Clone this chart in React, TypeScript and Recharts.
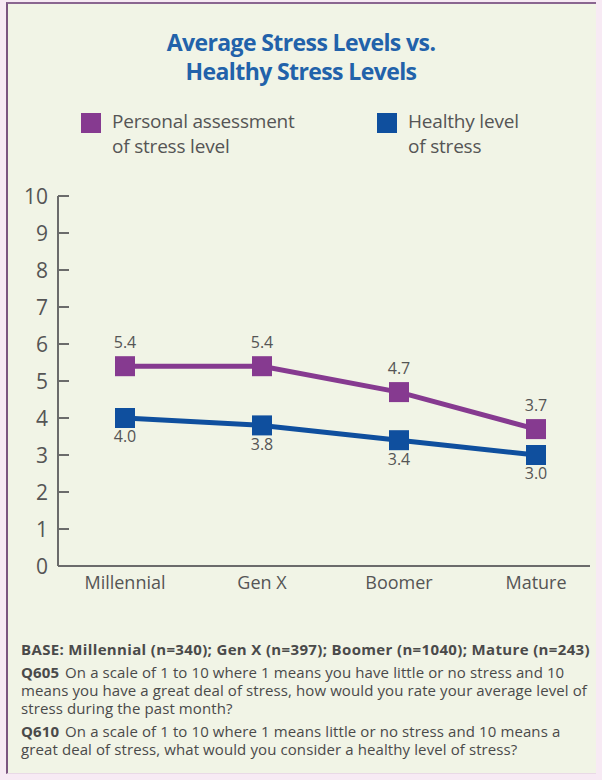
import { LineChart, Line, XAxis, YAxis, LabelList } from 'recharts'

const GENERATIONS = ['Millennial', 'Gen X', 'Boomer', 'Mature']
const PERSONAL = [5.4, 5.4, 4.7, 3.7]
const HEALTHY = [4.0, 3.8, 3.4, 3.0]
const Y_TICKS = [0, 1, 2, 3, 4, 5, 6, 7, 8, 9, 10]

const PURPLE = '#863a90'
const BLUE = '#0f4f9e'
const GREY = '#555'
const FONT = '"Open Sans", "Noto Sans", sans-serif'

const rows = GENERATIONS.map((name, i) => ({ name, personal: PERSONAL[i], healthy: HEALTHY[i] }))

const Square = (color: string) => (props: any) => {
  const { cx, cy, index } = props
  if (cx == null || cy == null) return <g key={index} />
  return <rect key={index} x={cx - 10} y={cy - 10} width={20} height={20} fill={color} />
}

// y ticks sit inside the plot (to the right of the axis line)
const YTick = (props: any) => {
  const { x, y, payload } = props
  return (
    <g>
      <line x1={x + 10} x2={x + 21} y1={y} y2={y} stroke="#6b6b6b" strokeWidth={2} />
      <text x={x} y={y} dy="0.36em" textAnchor="end" fill={GREY} fontSize={21} fontFamily={FONT}>
        {payload.value}
      </text>
    </g>
  )
}

function LegendItem({ color, lines, left }: { color: string; lines: string[]; left: number }) {
  return (
    <div style={{ position: 'absolute', left, top: 109, display: 'flex' }}>
      <span style={{ width: 20, height: 20, background: color, marginTop: 4, marginRight: 11 }} />
      <div style={{ fontSize: 19, lineHeight: '25px', color: GREY, letterSpacing: -0.2 }}>
        {lines.map(l => <div key={l}>{l}</div>)}
      </div>
    </div>
  )
}

const qLabel = { fontWeight: 700, marginRight: 6 }

export default function App() {
  return (
    <div style={{ position: 'absolute', left: 0, top: 0, width: 602, height: 780, background: '#f7eaf4', fontFamily: FONT }}>
      <div
        style={{
          position: 'absolute', left: 6, top: 2, width: 590, height: 772,
          background: '#f1f4e6', borderLeft: '2px solid #7b5580', borderTop: '2px solid #8a6690',
          borderBottom: '1px solid #e9d9e6', boxSizing: 'border-box',
        }}
      />
      <div style={{ position: 'absolute', left: 0, width: 602, top: 28, textAlign: 'center', color: '#2262aa', fontWeight: 700, fontSize: 23, lineHeight: '29px', letterSpacing: -0.6 }}>
        <div>Average Stress Levels vs.</div>
        <div>Healthy Stress Levels</div>
      </div>

      <LegendItem color={PURPLE} lines={['Personal assessment', 'of stress level']} left={81} />
      <LegendItem color={BLUE} lines={['Healthy level', 'of stress']} left={377} />

      <div style={{ position: 'absolute', left: 0, top: 0 }}>
        <LineChart width={602} height={620} data={rows} margin={{ top: 196, right: 12, bottom: 0, left: 0 }}>
          <XAxis
            dataKey="name"
            padding={{ left: 67, right: 54 }}
            height={54}
            tickLine={false}
            tickMargin={4}
            axisLine={{ stroke: '#6b6b6b', strokeWidth: 2 }}
            tick={{ fill: GREY, fontSize: 18, fontFamily: FONT }}
          />
          <YAxis
            domain={[0, 10]}
            ticks={Y_TICKS}
            interval={0}
            width={58}
            tickLine={false}
            tickSize={0}
            tickMargin={10}
            axisLine={{ stroke: '#6b6b6b', strokeWidth: 2 }}
            tick={<YTick />}
          />
          <Line dataKey="personal" stroke={PURPLE} strokeWidth={5} dot={Square(PURPLE)} isAnimationActive={false}>
            <LabelList dataKey="personal" position="top" offset={18} fill={GREY} fontSize={16} fontFamily={FONT} formatter={(v: any) => Number(v).toFixed(1)} />
          </Line>
          <Line dataKey="healthy" stroke={BLUE} strokeWidth={5} dot={Square(BLUE)} isAnimationActive={false}>
            <LabelList dataKey="healthy" position="bottom" offset={13} fill={GREY} fontSize={16} fontFamily={FONT} formatter={(v: any) => Number(v).toFixed(1)} />
          </Line>
        </LineChart>
      </div>

      <div style={{ position: 'absolute', left: 21, top: 640, width: 578, fontSize: 15, lineHeight: '18px', color: '#4a4a4a', letterSpacing: 0.1, whiteSpace: 'nowrap' }}>
        <div style={{ fontWeight: 700, marginBottom: 5, letterSpacing: 0.35 }}>
          BASE: Millennial (n=340); Gen X (n=397); Boomer (n=1040); Mature (n=243)
        </div>
        <div style={{ marginBottom: 5 }}>
          <div><span style={qLabel}>Q605</span>On a scale of 1 to 10 where 1 means you have little or no stress and 10</div>
          <div>means you have a great deal of stress, how would you rate your average level of</div>
          <div>stress during the past month?</div>
        </div>
        <div>
          <div><span style={qLabel}>Q610</span>On a scale of 1 to 10 where 1 means little or no stress and 10 means a</div>
          <div>great deal of stress, what would you consider a healthy level of stress?</div>
        </div>
      </div>
    </div>
  )
}
